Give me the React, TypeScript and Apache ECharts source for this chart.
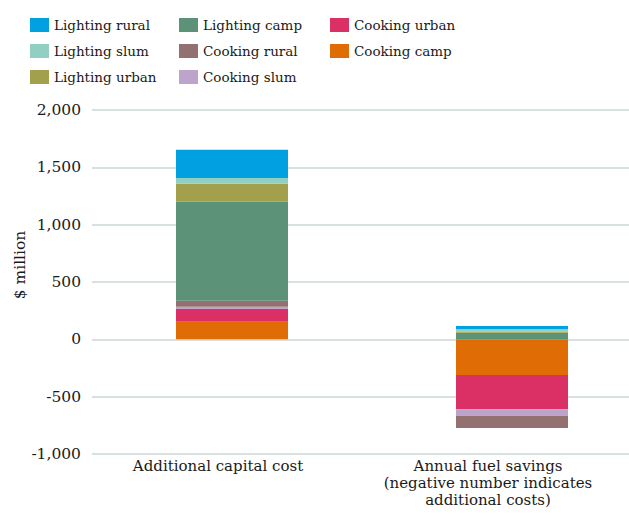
import React, { useEffect, useRef } from "react";
import * as echarts from "echarts";

const categories = ["Additional capital cost", "Annual fuel savings"];
const seriesNames = [
  "Cooking camp",
  "Cooking urban",
  "Cooking slum",
  "Cooking rural",
  "Lighting camp",
  "Lighting urban",
  "Lighting slum",
  "Lighting rural",
];
const cookingCamp = [153, -310];
const cookingUrban = [111, -299];
const cookingSlum = [20, -58];
const cookingRural = [52, -107];
const lightingCamp = [863, 57];
const lightingUrban = [157, 11];
const lightingSlum = [52, 23];
const lightingRural = [245, 26];
const seriesValues = [
  cookingCamp,
  cookingUrban,
  cookingSlum,
  cookingRural,
  lightingCamp,
  lightingUrban,
  lightingSlum,
  lightingRural,
];
const colors = [
  "#E06C06",
  "#DB3066",
  "#BDA4CB",
  "#937171",
  "#5C9277",
  "#A2A04C",
  "#92CFC3",
  "#00A0E1",
];
const legendCols = [
  ["Lighting rural", "Lighting slum", "Lighting urban"],
  ["Lighting camp", "Cooking rural", "Cooking slum"],
  ["Cooking urban", "Cooking camp"],
];
const legendLefts = [30, 179, 330];
const yTicks = { min: -1000, max: 2000, interval: 500 };

const FONT = "DejaVu Serif";
const TEXT = "#1a1a1a";

export default function App() {
  const ref = useRef<HTMLDivElement>(null);
  useEffect(() => {
    if (!ref.current) return;
    const chart = echarts.init(ref.current, undefined, { renderer: "svg" });
    chart.setOption({
      animation: false,
      legend: legendCols.map((data, i) => ({
        data,
        left: legendLefts[i],
        top: 18,
        orient: "vertical",
        icon: "rect",
        itemWidth: 19,
        itemHeight: 14,
        itemGap: 12,
        padding: 0,
        selectedMode: false,
        textStyle: { fontFamily: FONT, fontSize: 13.5, color: TEXT, lineHeight: 14 },
      })),
      grid: {
        left: 92,
        top: 110,
        right: -23,
        bottom: 61,
        containLabel: false,
        outerBoundsMode: "none",
      },
      xAxis: {
        type: "category",
        data: categories,
        axisLine: { show: false },
        axisTick: { show: false },
        axisLabel: {
          margin: 3,
          interval: 0,
          formatter: (v: string) =>
            v === categories[0]
              ? "{a|Additional capital cost}"
              : "{b|Annual fuel savings}\n{b|(negative number indicates}\n{b|additional costs)}",
          rich: {
            a: { fontFamily: FONT, fontSize: 15, color: TEXT, lineHeight: 17, padding: [0, 28, 0, 0] },
            b: { fontFamily: FONT, fontSize: 15, color: TEXT, lineHeight: 17, padding: [0, 48, 0, 0] },
          },
        },
      },
      yAxis: {
        type: "value",
        min: yTicks.min,
        max: yTicks.max,
        interval: yTicks.interval,
        name: "$ million",
        nameLocation: "middle",
        nameGap: 64,
        nameMoveOverlap: false,
        nameTextStyle: { fontFamily: FONT, fontSize: 15.5, color: TEXT, padding: [0, 0, 0, 34] },
        axisLine: { show: false },
        axisTick: { show: false },
        axisLabel: {
          margin: 11,
          fontFamily: FONT,
          fontSize: 15.5,
          color: TEXT,
          formatter: (v: number) => v.toLocaleString("en-US"),
        },
        splitLine: { lineStyle: { color: "#CCD6D6", width: 1.5 } },
      },
      series: seriesNames.map((name, i) => ({
        name,
        type: "bar",
        stack: "total",
        barWidth: 112,
        data: seriesValues[i],
        itemStyle: { color: colors[i] },
      })),
    });
    return () => chart.dispose();
  }, []);
  return (
    <div
      ref={ref}
      style={{ position: "absolute", left: 0, top: 0, width: 629, height: 515 }}
    />
  );
}
